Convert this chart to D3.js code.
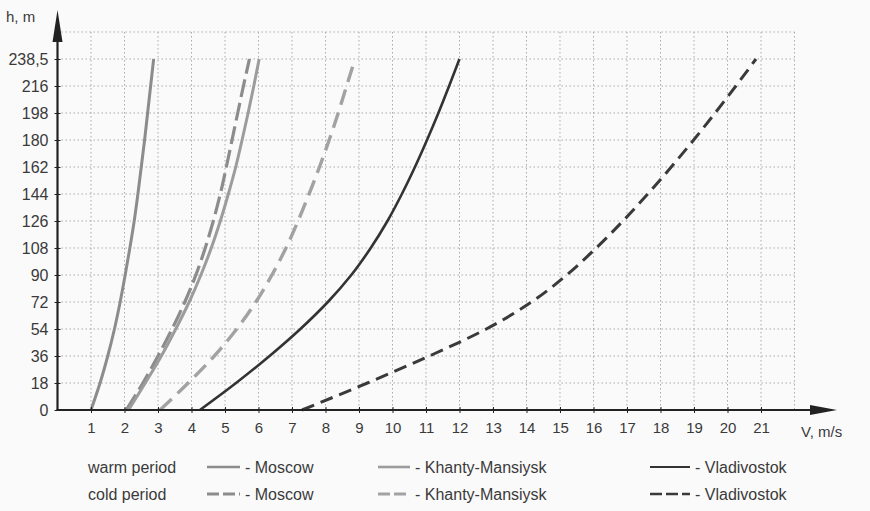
<!DOCTYPE html>
<html>
<head>
<meta charset="utf-8">
<script src="https://cdn.jsdelivr.net/npm/d3@7/dist/d3.min.js"></script>
<style>
  html, body { margin: 0; padding: 0; background: #fafafa; }
  svg { display: block; }
  text { font-family: "Liberation Sans", Arial, sans-serif; fill: #3a3a3a; }
</style>
</head>
<body>
<svg id="chart" width="870" height="511"></svg>
<script>
// ---- data ----
const hLevels = [0, 18, 36, 54, 72, 90, 108, 126, 144, 162, 180, 198, 216, 238.5];
const hTickLabels = ["0", "18", "36", "54", "72", "90", "108", "126", "144", "162", "180", "198", "216", "238,5"];
const vTicks = [1, 2, 3, 4, 5, 6, 7, 8, 9, 10, 11, 12, 13, 14, 15, 16, 17, 18, 19, 20, 21];
const vGrid = [1, 2, 3, 4, 5, 6, 7, 8, 9, 10, 11, 12, 13, 14, 15, 16, 17, 18, 19, 20, 21, 22];

const moscowWarm   = [1.0, 1.27, 1.5, 1.7, 1.87, 2.02, 2.16, 2.29, 2.4, 2.5, 2.6, 2.69, 2.78, 2.87];
const moscowCold   = [2.05, 2.55, 3.0, 3.42, 3.8, 4.13, 4.41, 4.65, 4.86, 5.04, 5.21, 5.38, 5.55, 5.73];
const khantyWarm   = [2.12, 2.62, 3.1, 3.53, 3.93, 4.28, 4.59, 4.86, 5.1, 5.32, 5.51, 5.69, 5.86, 6.02];
const khantyCold   = [3.06, 3.9, 4.68, 5.35, 5.92, 6.4, 6.82, 7.18, 7.51, 7.82, 8.11, 8.38, 8.63, 8.88];
const vladWarm     = [4.25, 5.33, 6.33, 7.25, 8.07, 8.77, 9.35, 9.85, 10.28, 10.67, 11.03, 11.37, 11.69, 12.0];
const vladCold     = [7.3, 9.25, 11.1, 12.8, 14.15, 15.2, 16.08, 16.88, 17.62, 18.32, 18.99, 19.63, 20.25, 20.85];

const periods = ["warm period", "cold period"];
const cities = ["Moscow", "Khanty-Mansiysk", "Vladivostok"];

const series = [
  { city: 0, period: 0, values: moscowWarm, color: "#8c8c8c", width: 3,   dash: null },
  { city: 0, period: 1, values: moscowCold, color: "#8c8c8c", width: 3.2, dash: "18,6" },
  { city: 1, period: 0, values: khantyWarm, color: "#9c9c9c", width: 3,   dash: null },
  { city: 1, period: 1, values: khantyCold, color: "#a2a2a2", width: 3.4, dash: "16,8" },
  { city: 2, period: 0, values: vladWarm,   color: "#333333", width: 2.6, dash: null },
  { city: 2, period: 1, values: vladCold,   color: "#3a3a3a", width: 3,   dash: "13,7" }
];

// ---- scales ----
const svg = d3.select("#chart");
const x = d3.scaleLinear().domain([0, 22]).range([57.5, 794.5]);
const y = d3.scaleLinear().domain([0, 216, 238.5, 261]).range([410, 86, 59, 32]);

// ---- grid ----
const grid = svg.append("g").attr("stroke", "#ababab").attr("stroke-width", 1)
  .attr("stroke-dasharray", "1.5,2.5");
grid.selectAll("line.v").data(vGrid).join("line")
  .attr("x1", d => x(d)).attr("x2", d => x(d))
  .attr("y1", y(261)).attr("y2", y(0));
grid.selectAll("line.h").data(hLevels.slice(1).concat([261])).join("line")
  .attr("x1", x(0)).attr("x2", x(22))
  .attr("y1", d => y(d)).attr("y2", d => y(d));

// ---- curves ----
const line = d3.line()
  .x(d => x(d[0]))
  .y(d => y(d[1]))
  .curve(d3.curveMonotoneY);

svg.append("g").selectAll("path").data(series).join("path")
  .attr("d", s => line(s.values.map((v, i) => [v, hLevels[i]])))
  .attr("fill", "none")
  .attr("stroke", s => s.color)
  .attr("stroke-width", s => s.width)
  .attr("stroke-dasharray", s => s.dash)
  .attr("stroke-linecap", "butt");

// ---- axes ----
const xAxis = svg.append("g").attr("transform", `translate(0,${y(0)})`)
  .call(d3.axisBottom(x).tickValues(vTicks).tickSize(3).tickSizeOuter(0).tickPadding(9));
xAxis.select(".domain").remove();
xAxis.selectAll(".tick line").attr("stroke", "#222").attr("y1", -3).attr("y2", 3);
xAxis.selectAll(".tick text").attr("font-size", 15).attr("font-family", "Liberation Sans, Arial, sans-serif").attr("fill", "#3a3a3a");

const yAxis = svg.append("g").attr("transform", `translate(${x(0)},0)`)
  .call(d3.axisLeft(y).tickValues(hLevels).tickFormat((d, i) => hTickLabels[i]).tickSize(3).tickSizeOuter(0).tickPadding(6));
yAxis.select(".domain").remove();
yAxis.selectAll(".tick line").attr("stroke", "#222").attr("x1", -3).attr("x2", 3);
yAxis.selectAll(".tick text").attr("font-size", 16).attr("font-family", "Liberation Sans, Arial, sans-serif").attr("fill", "#3a3a3a");

// axis lines with arrows
svg.append("line").attr("x1", x(0) - 1).attr("x2", 812).attr("y1", y(0)).attr("y2", y(0))
  .attr("stroke", "#222").attr("stroke-width", 2.2);
svg.append("path").attr("d", `M810,${y(0) - 5}L837,${y(0)}L810,${y(0) + 5}Z`).attr("fill", "#222");
svg.append("line").attr("x1", x(0)).attr("x2", x(0)).attr("y1", y(0) + 1).attr("y2", 38)
  .attr("stroke", "#222").attr("stroke-width", 2.2);
svg.append("path").attr("d", `M${x(0) - 5},42L${x(0)},10L${x(0) + 5},42Z`).attr("fill", "#222");

// axis titles
svg.append("text").attr("x", 6).attr("y", 22).attr("font-size", 15).text("h, m");
svg.append("text").attr("x", 801).attr("y", 437).attr("font-size", 15).text("V, m/s");

// ---- legend ----
const rowY = [467, 494];
const groupX = [207, 378, 650];
const groupW = [33, 32, 40];
const legend = svg.append("g");
periods.forEach((p, r) => {
  legend.append("text").attr("x", 88).attr("y", rowY[r] + 6).attr("font-size", 16).text(p);
});
series.forEach(s => {
  const gx = groupX[s.city], yy = rowY[s.period];
  legend.append("line")
    .attr("x1", gx).attr("x2", gx + groupW[s.city])
    .attr("y1", yy).attr("y2", yy)
    .attr("stroke", s.color).attr("stroke-width", s.width - 0.4)
    .attr("stroke-dasharray", s.dash ? "12,4" : null);
  legend.append("text")
    .attr("x", gx + groupW[s.city] + 5).attr("y", yy + 6)
    .attr("font-size", 16).text("- " + cities[s.city]);
});
</script>
</body>
</html>
